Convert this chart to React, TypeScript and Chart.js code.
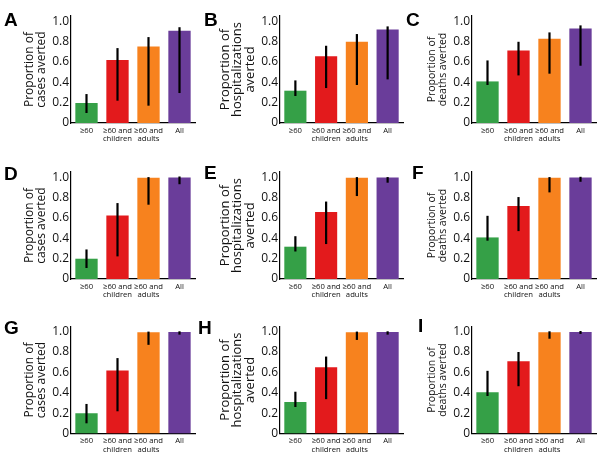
import React, { useEffect, useRef } from "react";
import { Chart, registerables } from "chart.js";

Chart.register(...registerables);

// ---------- data ----------
const categories = [["≥60"], ["≥60 and", "children"], ["≥60 and", "adults"], ["All"]];
const yTicks = [0, 0.2, 0.4, 0.6, 0.8, 1.0];
const barColors = ["#35a047", "#e31a1c", "#f7821e", "#6a3d9a"];

const titleCases = ["Proportion of", "cases averted"];
const titleHosp = ["Proportion of", "hospitalizations", "averted"];
const titleDeaths = ["Proportion of", "deaths averted"];

const valuesA = [0.196, 0.618, 0.75, 0.905];
const lowA = [0.098, 0.219, 0.17, 0.294];
const highA = [0.284, 0.735, 0.843, 0.94];

const valuesB = [0.317, 0.654, 0.797, 0.918];
const lowB = [0.265, 0.343, 0.373, 0.428];
const highB = [0.418, 0.758, 0.873, 0.948];

const valuesC = [0.408, 0.712, 0.827, 0.928];
const lowC = [0.373, 0.467, 0.484, 0.562];
const highC = [0.614, 0.797, 0.889, 0.958];

const valuesD = [0.199, 0.624, 0.993, 0.997];
const lowD = [0.108, 0.222, 0.729, 0.93];
const highD = [0.29, 0.745, 1.0, 1.006];

const valuesE = [0.317, 0.657, 0.993, 0.997];
const lowE = [0.27, 0.343, 0.814, 0.945];
const highE = [0.42, 0.76, 1.0, 1.0];

const valuesF = [0.408, 0.716, 0.993, 0.997];
const lowF = [0.376, 0.47, 0.85, 0.954];
const highF = [0.62, 0.804, 1.0, 1.003];

const valuesG = [0.199, 0.619, 0.993, 0.997];
const lowG = [0.1, 0.218, 0.87, 0.97];
const highG = [0.29, 0.74, 1.0, 1.003];

const valuesH = [0.31, 0.65, 0.993, 0.997];
const lowH = [0.26, 0.337, 0.918, 0.97];
const highH = [0.41, 0.755, 1.0, 1.003];

const valuesI = [0.405, 0.71, 0.993, 0.997];
const lowI = [0.368, 0.464, 0.93, 0.977];
const highI = [0.615, 0.8, 1.003, 1.006];

const panels = [
  { letter: "A", row: 0, col: 0, values: valuesA, low: lowA, high: highA, title: titleCases },
  { letter: "B", row: 0, col: 1, values: valuesB, low: lowB, high: highB, title: titleHosp },
  { letter: "C", row: 0, col: 2, values: valuesC, low: lowC, high: highC, title: titleDeaths },
  { letter: "D", row: 1, col: 0, values: valuesD, low: lowD, high: highD, title: titleCases },
  { letter: "E", row: 1, col: 1, values: valuesE, low: lowE, high: highE, title: titleHosp },
  { letter: "F", row: 1, col: 2, values: valuesF, low: lowF, high: highF, title: titleDeaths },
  { letter: "G", row: 2, col: 0, values: valuesG, low: lowG, high: highG, title: titleCases },
  { letter: "H", row: 2, col: 1, values: valuesH, low: lowH, high: highH, title: titleHosp },
  { letter: "I", row: 2, col: 2, values: valuesI, low: lowI, high: highI, title: titleDeaths },
];

// ---------- layout ----------
const W = 600;
const H = 459;
const colLeft = [71, 280, 472];
const colRight = [195, 403, 596];
const axisWidth = [47, 61.25, 44.75];
const titleSize = [12, 13, 10.5];
const titleLH = [1.0, 0.96, 1.0];
const rowBottom = [123, 279, 433.5];
const plotHeight = 107;
const xAxisHeight = 24;
const letterPos = [
  [4, 10], [204, 10], [406, 10],
  [4, 164], [204, 163], [412, 163],
  [4, 318], [198, 318], [418, 316],
];
const FONT = "'Open Sans', sans-serif";

function Panel({ p }: { p: any }) {
  const ref = useRef<HTMLCanvasElement | null>(null);
  useEffect(() => {
    if (!ref.current) return;
    const left = colLeft[p.col];
    const right = colRight[p.col];
    const bottom = rowBottom[p.row];
    const top = bottom - plotHeight;
    const aw = axisWidth[p.col];

    const errorBars = {
      id: "errorBars",
      afterDatasetsDraw(chart: any) {
        const meta = chart.getDatasetMeta(0);
        const ys = chart.scales.y;
        const ctx = chart.ctx;
        ctx.save();
        ctx.strokeStyle = "#000";
        ctx.lineWidth = 2.2;
        ctx.lineCap = "butt";
        meta.data.forEach((bar: any, i: number) => {
          const y1 = ys.getPixelForValue(p.low[i]);
          const y2 = ys.getPixelForValue(p.high[i]);
          ctx.beginPath();
          ctx.moveTo(bar.x, y1);
          ctx.lineTo(bar.x, y2);
          ctx.stroke();
        });
        ctx.restore();
      },
    };

    const chart = new Chart(ref.current, {
      type: "bar",
      data: {
        labels: categories,
        datasets: [
          {
            data: p.values,
            backgroundColor: barColors,
            borderWidth: 0,
            barPercentage: 0.9,
            categoryPercentage: 0.8,
          },
        ],
      },
      options: {
        responsive: false,
        animation: false,
        devicePixelRatio: 1,
        layout: {
          padding: {
            left: left - aw,
            right: W - right,
            top: top,
            bottom: H - bottom - xAxisHeight,
          },
        },
        plugins: {
          legend: { display: false },
          tooltip: { enabled: false },
          title: { display: false },
        },
        scales: {
          x: {
            offset: true,
            grid: { display: false, drawTicks: false },
            border: { display: true, color: "#000", width: 1.2 },
            ticks: {
              color: "#111",
              font: { family: FONT, size: 7.7, lineHeight: 1.15 },
              padding: 3,
              maxRotation: 0,
              autoSkip: false,
            },
            afterFit: (s: any) => {
              s.height = xAxisHeight;
            },
          },
          y: {
            min: 0,
            max: 1.05,
            grid: { display: false, drawTicks: false },
            border: { display: true, color: "#000", width: 1.2 },
            afterBuildTicks: (s: any) => {
              s.ticks = yTicks.map((v) => ({ value: v }));
            },
            ticks: {
              color: "#111",
              font: { family: FONT, size: 12 },
              padding: 2,
              callback: (v: any) => (Number(v) === 0 ? "0" : Number(v).toFixed(1)),
            },
            title: {
              display: true,
              text: p.title,
              color: "#111",
              padding: 0,
              font: { family: FONT, size: titleSize[p.col], lineHeight: titleLH[p.col] },
            },
            afterFit: (s: any) => {
              s.width = aw;
            },
          },
        },
      },
      plugins: [errorBars],
    });
    return () => chart.destroy();
  }, [p]);
  return (
    <canvas
      ref={ref}
      width={W}
      height={H}
      style={{ position: "absolute", left: 0, top: 0, width: W, height: H }}
    />
  );
}

export default function App() {
  return (
    <div
      style={{
        position: "absolute",
        left: 0,
        top: 0,
        width: W,
        height: H,
        background: "#fff",
        overflow: "hidden",
      }}
    >
      {panels.map((p) => (
        <Panel key={p.letter} p={p} />
      ))}
      {panels.map((p, i) => (
        <div
          key={"l" + p.letter}
          style={{
            position: "absolute",
            left: letterPos[i][0],
            top: letterPos[i][1],
            fontFamily: "'Liberation Sans', Arial, sans-serif",
            fontWeight: 700,
            fontSize: 19,
            lineHeight: 1,
            color: "#000",
          }}
        >
          {p.letter}
        </div>
      ))}
    </div>
  );
}
